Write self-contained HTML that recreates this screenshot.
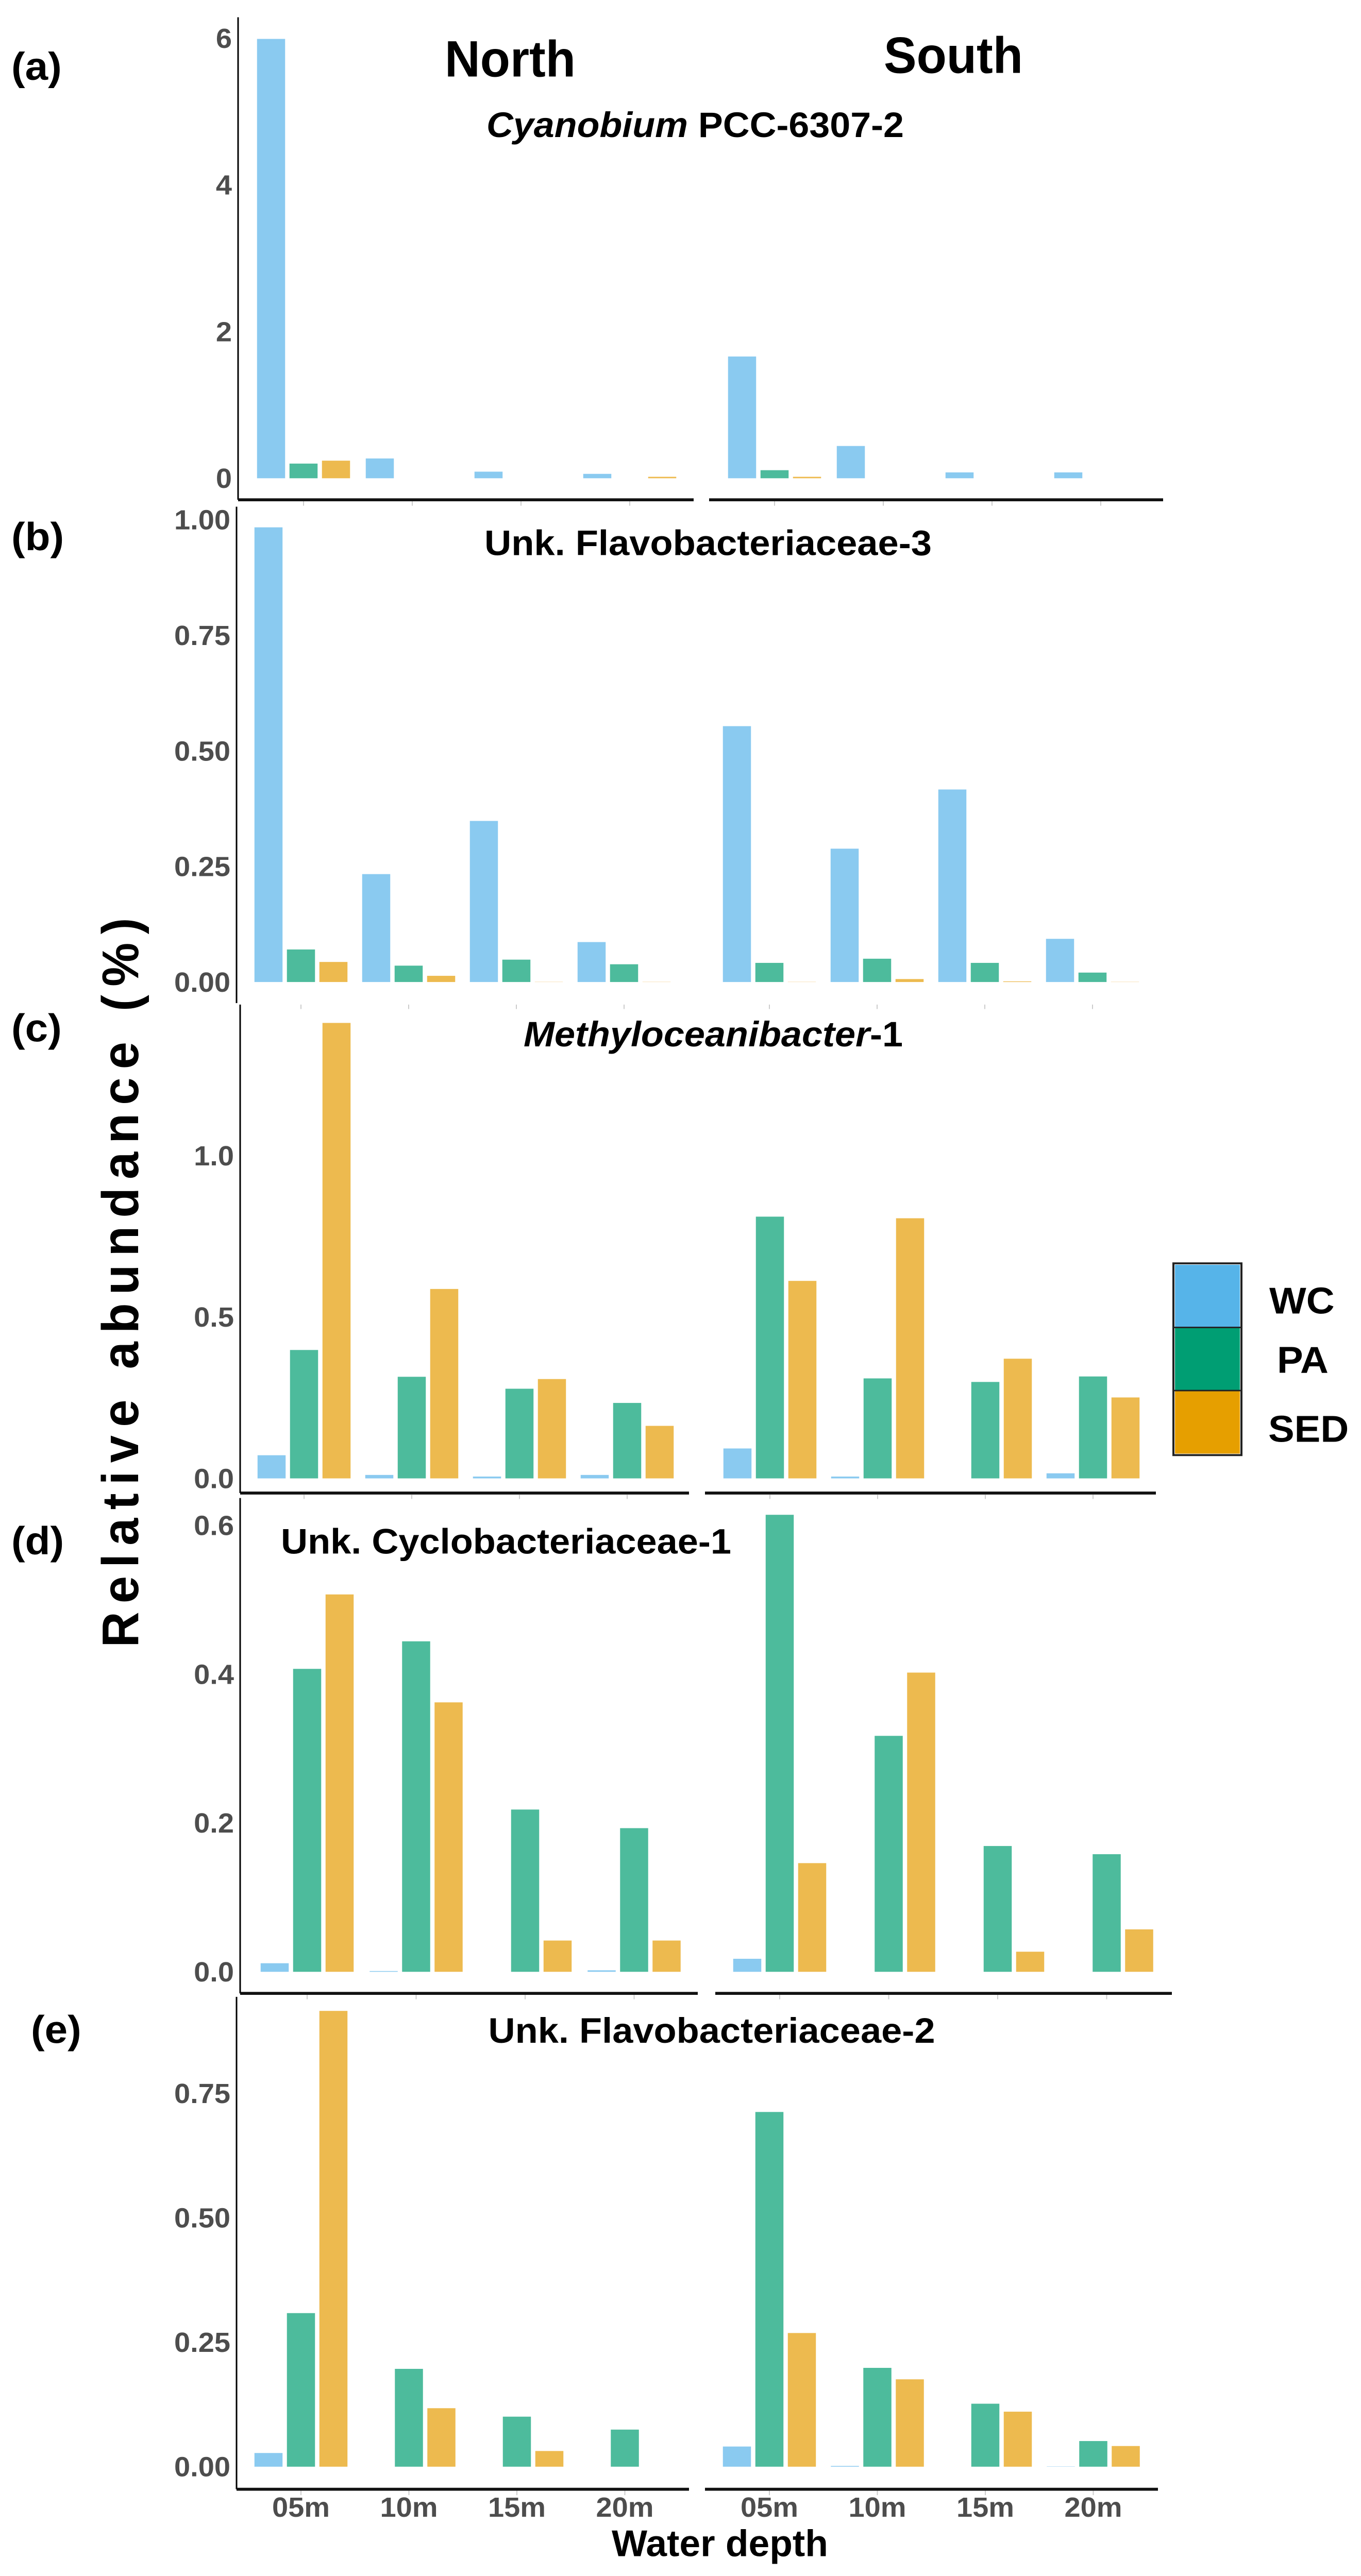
<!DOCTYPE html>
<html><head><meta charset="utf-8">
<style>
html,body{margin:0;padding:0;background:#fff;width:100%;height:100%;overflow:hidden;}
svg{display:block;position:fixed;left:0;top:0;width:100vw;height:100vh;font-family:"Liberation Sans",Arial,sans-serif;}
</style></head>
<body>
<svg id="chart" viewBox="0 0 2641 5226" preserveAspectRatio="none" xmlns="http://www.w3.org/2000/svg" font-family="Liberation Sans, Arial, sans-serif">
<rect x="0" y="0" width="2641" height="5226" fill="#fff"/>
<g id="layer"></g>
<g font-weight="bold">
  <text x="22" y="162" font-size="80">(a)</text>
  <text x="22" y="1116" font-size="80">(b)</text>
  <text x="22" y="2113" font-size="80">(c)</text>
  <text x="22" y="3153" font-size="80">(d)</text>
  <text x="60" y="4145" font-size="80">(e)</text>
  <text x="990" y="155" font-size="104" text-anchor="middle" textLength="254" lengthAdjust="spacingAndGlyphs">North</text>
  <text x="1850" y="148" font-size="104" text-anchor="middle" textLength="270" lengthAdjust="spacingAndGlyphs">South</text>
  <text x="1349" y="278" font-size="72" text-anchor="middle" textLength="810" lengthAdjust="spacingAndGlyphs"><tspan font-style="italic">Cyanobium</tspan> PCC-6307-2</text>
  <text x="1374" y="1126" font-size="72" text-anchor="middle" textLength="868" lengthAdjust="spacingAndGlyphs">Unk. Flavobacteriaceae-3</text>
  <text x="1384" y="2123" font-size="72" text-anchor="middle" textLength="736" lengthAdjust="spacingAndGlyphs"><tspan font-style="italic">Methyloceanibacter</tspan>-1</text>
  <text x="545" y="3152" font-size="72" textLength="874" lengthAdjust="spacingAndGlyphs">Unk. Cyclobacteriaceae-1</text>
  <text x="1381" y="4144" font-size="72" text-anchor="middle" textLength="867" lengthAdjust="spacingAndGlyphs">Unk. Flavobacteriaceae-2</text>
  <text transform="translate(268,2602) rotate(-90)" font-size="100" text-anchor="middle" textLength="1480" lengthAdjust="spacing">Relative abundance (%)</text>
  <text x="1397" y="5186" font-size="76" text-anchor="middle" textLength="420" lengthAdjust="spacingAndGlyphs">Water depth</text>
  <g>
    <rect x="2279" y="2565" width="128" height="128" fill="#56B4E9" stroke="#fff" stroke-width="2"/>
    <rect x="2279" y="2693" width="128" height="128" fill="#009E73" stroke="#fff" stroke-width="2"/>
    <rect x="2279" y="2821" width="128" height="129" fill="#E69F00" stroke="#fff" stroke-width="2"/>
    <line x1="2277" x2="2409" y1="2693" y2="2693" stroke="#222" stroke-width="3"/>
    <line x1="2277" x2="2409" y1="2821" y2="2821" stroke="#222" stroke-width="3"/>
    <rect x="2277" y="2563" width="132" height="389" fill="none" stroke="#222" stroke-width="4"/>
    <text x="2463" y="2665" font-size="76">WC</text>
    <text x="2478" y="2785" font-size="76">PA</text>
    <text x="2461" y="2925" font-size="76">SED</text>
  </g>
</g>
</svg>
<script>
// ---- data ----
const depths = ["05m","10m","15m","20m"];
const series = ["WC","PA","SED"];
// Panel (a) Cyanobium PCC-6307-2
const aNorthWC = [6.0, 0.28, 0.10, 0.07];
const aNorthPA = [0.21, 0.01, 0.01, 0.0];
const aNorthSED = [0.25, 0.01, 0.01, 0.03];
const aSouthWC = [1.67, 0.45, 0.09, 0.09];
const aSouthPA = [0.12, 0.01, 0.0, 0.0];
const aSouthSED = [0.03, 0.01, 0.0, 0.0];
const aTicks = [0, 2, 4, 6];
const aTickLabels = ["0","2","4","6"];
// Panel (b) Unk. Flavobacteriaceae-3
const bNorthWC = [0.985, 0.235, 0.35, 0.088];
const bNorthPA = [0.072, 0.037, 0.05, 0.04];
const bNorthSED = [0.045, 0.015, 0.002, 0.002];
const bSouthWC = [0.555, 0.29, 0.418, 0.095];
const bSouthPA = [0.043, 0.052, 0.043, 0.022];
const bSouthSED = [0.002, 0.008, 0.003, 0.002];
const bTicks = [0, 0.25, 0.5, 0.75, 1.0];
const bTickLabels = ["0.00","0.25","0.50","0.75","1.00"];
// Panel (c) Methyloceanibacter-1
const cNorthWC = [0.074, 0.013, 0.008, 0.013];
const cNorthPA = [0.40, 0.317, 0.28, 0.236];
const cNorthSED = [1.413, 0.589, 0.31, 0.165];
const cSouthWC = [0.095, 0.008, 0.002, 0.018];
const cSouthPA = [0.813, 0.312, 0.301, 0.318];
const cSouthSED = [0.614, 0.808, 0.373, 0.253];
const cTicks = [0, 0.5, 1.0];
const cTickLabels = ["0.0","0.5","1.0"];
// Panel (d) Unk. Cyclobacteriaceae-1
const dNorthWC = [0.0125, 0.002, 0.0, 0.003];
const dNorthPA = [0.408, 0.445, 0.219, 0.194];
const dNorthSED = [0.508, 0.363, 0.043, 0.043];
const dSouthWC = [0.0185, 0.0, 0.0, 0.0];
const dSouthPA = [0.615, 0.318, 0.170, 0.159];
const dSouthSED = [0.147, 0.403, 0.028, 0.058];
const dTicks = [0, 0.2, 0.4, 0.6];
const dTickLabels = ["0.0","0.2","0.4","0.6"];
// Panel (e) Unk. Flavobacteriaceae-2
const eNorthWC = [0.029, 0.0, 0.0, 0.0];
const eNorthPA = [0.31, 0.198, 0.102, 0.076];
const eNorthSED = [0.917, 0.119, 0.033, 0.0];
const eSouthWC = [0.042, 0.003, 0.0, 0.002];
const eSouthPA = [0.714, 0.20, 0.128, 0.053];
const eSouthSED = [0.27, 0.177, 0.112, 0.043];
const eTicks = [0, 0.25, 0.5, 0.75];
const eTickLabels = ["0.00","0.25","0.50","0.75"];

const barColors = {WC:"#8ACAF0", PA:"#4DBB9C", SED:"#EDBA4F"};
const NS = "http://www.w3.org/2000/svg";
const layer = document.getElementById("layer");
function mk(tag, attrs, parent){
  const e = document.createElementNS(NS, tag);
  for (const k in attrs) e.setAttribute(k, attrs[k]);
  (parent||layer).appendChild(e);
  return e;
}

const panels = [
 {id:"a", data:{N:[aNorthWC,aNorthPA,aNorthSED], S:[aSouthWC,aSouthPA,aSouthSED]}, ticks:aTicks, labels:aTickLabels,
  axisX:462, top:35, y0:971, ppu:148.8, n0:589, s0:1503, step:211, bottom:1014, line:true, lN:[462,1346], lS:[1376,2257]},
 {id:"b", data:{N:[bNorthWC,bNorthPA,bNorthSED], S:[bSouthWC,bSouthPA,bSouthSED]}, ticks:bTicks, labels:bTickLabels,
  axisX:459, top:1028, y0:1993, ppu:938, n0:584, s0:1493, step:209, bottom:2035, line:false, lN:[459,1337], lS:[1368,2247]},
 {id:"c", data:{N:[cNorthWC,cNorthPA,cNorthSED], S:[cSouthWC,cSouthPA,cSouthSED]}, ticks:cTicks, labels:cTickLabels,
  axisX:466, top:2038, y0:3000, ppu:655, n0:590, s0:1494, step:209, bottom:3029, line:true, lN:[466,1337], lS:[1368,2243]},
 {id:"d", data:{N:[dNorthWC,dNorthPA,dNorthSED], S:[dSouthWC,dSouthPA,dSouthSED]}, ticks:dTicks, labels:dTickLabels,
  axisX:466, top:3039, y0:4001, ppu:1510, n0:596, s0:1513, step:211.5, bottom:4044, line:true, lN:[466,1354], lS:[1388,2274]},
 {id:"e", data:{N:[eNorthWC,eNorthPA,eNorthSED], S:[eSouthWC,eSouthPA,eSouthSED]}, ticks:eTicks, labels:eTickLabels,
  axisX:459, top:4051, y0:5005, ppu:1010, n0:584, s0:1493, step:209.5, bottom:5050, line:true, lN:[459,1337], lS:[1368,2247]}
];

const BW = 56, BO = 63;
panels.forEach(p => {
  const g = mk("g", {});
  
  
  const yScale = v => p.y0 - v * p.ppu;
  const ax = mk("line", {x1:p.axisX, x2:p.axisX, y1:p.top, y2:p.bottom, stroke:"#000", "stroke-width":3}, g);
  
  
  p.ticks.forEach((t,i) => {
    const tx = mk("text", {x:p.axisX-12, y:yScale(t)+19, "text-anchor":"end", "font-size":56, "font-weight":"bold", fill:"#4d4d4d"}, g);
    tx.textContent = p.labels[i];
    
    
  });
  if (p.line) {
    [p.lN, p.lS].forEach((l,k) => {
      const xl = mk("line", {x1:l[0], x2:l[1], y1:p.bottom, y2:p.bottom, stroke:"#111", "stroke-width":6}, g);
      
      
    });
  }
  ["N","S"].forEach(side => {
    const base = side==="N" ? p.n0 : p.s0;
    depths.forEach((d,di) => {
      const cx = base + di*p.step;
      mk("line", {x1:cx, x2:cx, y1:p.bottom+3, y2:p.bottom+12, stroke:"#ccc", "stroke-width":2}, g);
      series.forEach((s,si) => {
        const v = p.data[side][si][di];
        const yTop = yScale(v);
        const h = Math.max(p.y0 - yTop, 1.5);
        const r = mk("rect", {x:cx + (si-1)*BO - BW/2, y:p.y0 - h, width:BW, height:h, fill:barColors[s], stroke:"#fff", "stroke-width":1.5}, g);
        
        
      });
    });
  });
});

const pe = panels[4];
["N","S"].forEach(side => {
  const base = side==="N" ? pe.n0 : pe.s0;
  depths.forEach((d,di) => {
    const t = mk("text", {x:base+di*pe.step, y:5106, "text-anchor":"middle", "font-size":56, "font-weight":"bold", fill:"#4d4d4d"});
    t.textContent = d;
    
    
  });
});
</script>
</body></html>
